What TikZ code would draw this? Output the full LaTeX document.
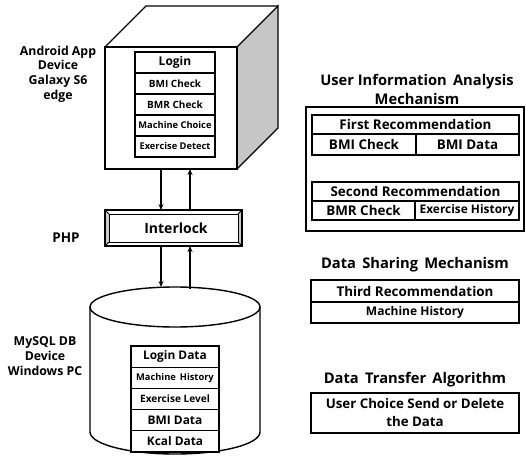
\documentclass[tikz,border=0pt]{standalone}
\usepackage{fontspec}
\setmainfont{Open Sans}
\usetikzlibrary{arrows.meta}
\begin{document}
\begin{tikzpicture}[x=1pt,y=-1pt,line join=miter,
  every node/.style={inner sep=0pt,outer sep=0pt},
  outline/.style={line width=1.4pt},
  cell/.style={draw,line width=1.2pt,fill=white,anchor=center,align=center},
  lbl/.style={align=center,font=\fontsize{12.3}{14.7}\selectfont\bfseries},
  ttl/.style={align=center,font=\fontsize{14.7}{19}\selectfont\bfseries},
  hdr/.style={font=\fontsize{13.4}{15}\selectfont\bfseries},
  big/.style={font=\fontsize{12}{14}\selectfont\bfseries},
  mid/.style={font=\fontsize{10}{12}\selectfont\bfseries},
  sml/.style={font=\fontsize{9.3}{11}\selectfont\bfseries},
  arr/.style={line width=1.2pt,-{Stealth[length=6pt,width=5pt]}}
]
\useasboundingbox (0,0) rectangle (526,457);

% ---------- cube ----------
\fill[gray!45] (237,47) -- (278,6) -- (278,128) -- (237,169) -- cycle;
\draw[outline] (237,47) -- (278,6) -- (278,128) -- (237,169);
\draw[outline] (105,47) -- (146,6) -- (278,6);
\node[draw,outline,minimum width=132pt,minimum height=122pt] (cubefront) at (171,108) {};
\node[cell,big,minimum width=80pt,minimum height=21pt] (login) at (175,62.5) {Login};
\node[cell,mid,minimum width=80pt,minimum height=21pt] (bmi) at (175,83.5) {BMI Check};
\node[cell,mid,minimum width=80pt,minimum height=21pt] (bmr) at (175,104.5) {BMR Check};
\node[cell,sml,minimum width=80pt,minimum height=21pt] (mchoice) at (175,125.5) {Machine Choice};
\node[cell,sml,minimum width=80pt,minimum height=21pt] (exdet) at (175,146.5) {Exercise Detect};
\node[lbl] (android) at (58,74) {Android App\\Device\\Galaxy S6\\edge};

% ---------- interlock ----------
\node[minimum width=137pt,minimum height=36pt] (interlock) at (173.5,228) {};
\fill[gray!40] (interlock.north west) -- ++(4,4) -- ++(0,28) -- (interlock.south west) -- cycle;
\fill[gray!40] (interlock.north east) -- ++(-4,4) -- ++(0,28) -- (interlock.south east) -- cycle;
\draw[line width=1.2pt] (interlock.north west) rectangle (interlock.south east);
\draw[line width=1pt] ([shift={(4,4)}]interlock.north west) rectangle ([shift={(-4,-4)}]interlock.south east);
\draw[line width=0.8pt] (interlock.north west) -- ++(4,4);
\draw[line width=0.8pt] (interlock.north east) -- ++(-4,4);
\draw[line width=0.8pt] (interlock.south west) -- ++(4,-4);
\draw[line width=0.8pt] (interlock.south east) -- ++(-4,-4);
\node[font=\fontsize{14}{16}\selectfont\bfseries] (interlocktxt) at (176,228) {Interlock};
\node[font=\fontsize{13.5}{16}\selectfont\bfseries] (php) at (66,238) {PHP};

% ---------- cylinder ----------
\fill[white] (90,307) -- (90,432) arc[start angle=180,end angle=360,x radius=85pt,y radius=22pt] -- (260,307) -- cycle;
\draw[outline] (90,307) -- (90,432) arc[start angle=180,end angle=360,x radius=85pt,y radius=22pt] -- (260,307);
\draw[outline] (175,307) ellipse[x radius=85pt,y radius=20pt];
\node (dbtop) at (175,287) {};
\node[cell,font=\fontsize{11.9}{14}\selectfont\bfseries,minimum width=88pt,minimum height=21.2pt] (logind) at (175,356.6) {Login Data};
\node[cell,sml,minimum width=88pt,minimum height=21.2pt] (mhist) at (175,377.8) {Machine\, History};
\node[cell,font=\fontsize{10.1}{12}\selectfont\bfseries,minimum width=88pt,minimum height=21.2pt] (exlev) at (175,399) {Exercise Level};
\node[cell,font=\fontsize{11.9}{14}\selectfont\bfseries,minimum width=88pt,minimum height=21.2pt] (bmid) at (175,420.2) {BMI Data};
\node[cell,font=\fontsize{11.9}{14}\selectfont\bfseries,minimum width=88pt,minimum height=21.2pt] (kcal) at (175,441.4) {Kcal Data};
\node[lbl] (mysql) at (45,356) {MySQL DB\\Device\\Windows PC};

% ---------- connectors ----------
\draw[arr] (cubefront.south -| 161,0) -- (interlock.north -| 161,0);
\draw[arr] (interlock.north -| 190,0) -- (cubefront.south -| 190,0);
\draw[arr] (interlock.south -| 161,0) -- (dbtop.center -| 161,0);
\draw[arr] ([yshift=-2pt]dbtop.center -| 190,0) -- (interlock.south -| 190,0);

% ---------- right side ----------
\node[ttl] (uiam) at (417,89) {User Information\, Analysis\\Mechanism};
\node[draw,line width=1.4pt,minimum width=218pt,minimum height=124pt] (frame) at (415,169) {};
\node[cell,hdr,minimum width=207pt,minimum height=19pt] (first) at (415.5,124.5) {First Recommendation};
\node[cell,hdr,minimum width=104pt,minimum height=21pt] (bmic) at (364,144.5) {BMI Check};
\node[cell,hdr,minimum width=103pt,minimum height=21pt] (bmidat) at (467.5,144.5) {BMI Data};
\node[cell,hdr,minimum width=207pt,minimum height=19pt] (second) at (415.5,191.5) {Second Recommendation};
\node[cell,hdr,minimum width=103pt,minimum height=19pt] (bmrc) at (363.5,210.5) {BMR Check};
\node[cell,font=\fontsize{11.9}{14}\selectfont\bfseries,minimum width=104pt,minimum height=19pt] (exhist) at (467,210.5) {Exercise History};

\node[ttl] (dsm) at (415,265) {Data\, Sharing\, Mechanism};
\node[cell,hdr,minimum width=208pt,minimum height=22pt] (third) at (415,291) {Third Recommendation};
\node[cell,font=\fontsize{12}{14}\selectfont\bfseries,minimum width=208pt,minimum height=21pt] (mhist2) at (415,312.5) {Machine History};

\node[ttl] (dta) at (415,380) {Data\, Transfer\, Algorithm};
\node[cell,align=center,minimum width=208pt,minimum height=40pt,font=\fontsize{13.3}{18}\selectfont\bfseries] (ucs) at (415,413) {User Choice Send or Delete\\the Data};
\end{tikzpicture}
\end{document}
